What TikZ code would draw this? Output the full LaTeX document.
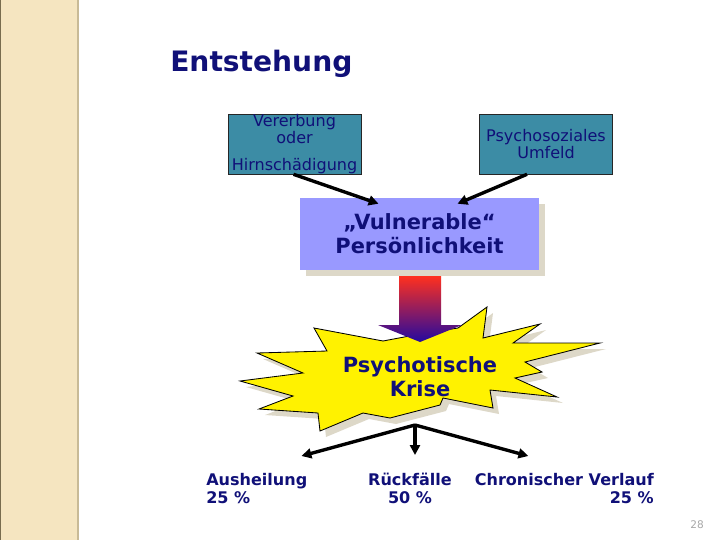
\documentclass[tikz,border=0pt]{standalone}
\usepackage{fontspec}
\setmainfont{DejaVu Sans}
\usetikzlibrary{arrows.meta,positioning,calc,shadows}
\definecolor{slidenavy}{RGB}{16,16,120}
\definecolor{slideteal}{RGB}{60,140,165}
\definecolor{slidelilac}{RGB}{153,153,255}
\definecolor{shadowtan}{RGB}{221,216,200}
\definecolor{bandbeige}{RGB}{245,229,192}
\definecolor{bandedge}{RGB}{200,186,150}
\definecolor{bandline}{RGB}{120,108,78}
\definecolor{blockred}{RGB}{255,48,30}
\definecolor{blockblue}{RGB}{36,10,160}
\definecolor{pagegray}{RGB}{168,168,168}

\begin{document}
\begin{tikzpicture}[x=0.025cm, y=-0.025cm,
    srcbox/.style={draw=black!85, fill=slideteal, text=slidenavy,
        minimum width=3.325cm, minimum height=1.5cm, align=center,
        inner sep=0pt, font=\fontsize{11.4}{12.1}\selectfont},
    bigtext/.style={text=slidenavy, align=center, inner sep=0pt,
        font=\bfseries\fontsize{14.9}{17}\selectfont},
    outcome/.style={text=slidenavy, inner sep=0pt,
        font=\bfseries\fontsize{11.4}{12.8}\selectfont},
    thickarrow/.style={-{Triangle[length=7pt,width=7pt]}, line width=2.4pt},
    softshadow/.style={drop shadow={shadow xshift=0.15cm, shadow yshift=-0.15cm,
        fill=shadowtan, opacity=1}}
]
\useasboundingbox (0,0) rectangle (720,540);

% side band
\fill[bandbeige] (0,0) rectangle (77,540);
\fill[bandedge] (77,0) rectangle (79,540);
\draw[bandline, line width=0.8pt] (0.5,0) -- (0.5,540);

% title
\node[anchor=base west, inner sep=0pt, text=slidenavy,
      font=\bfseries\fontsize{20}{24}\selectfont] (title) at (170,71) {Entstehung};

% causes
\node[srcbox] (erbe) at (294.5,144) {Vererbung\\oder\\[7pt]Hirnschädigung};
\node[srcbox] (umfeld) at (546,144) {Psychosoziales\\Umfeld};

% vulnerable personality
\node[bigtext, fill=slidelilac, softshadow, minimum width=5.975cm,
      minimum height=1.8cm] (vuln) at (419.5,234) {„Vulnerable“\\Persönlichkeit};

\draw[thickarrow] ($(erbe.south)+(-1,0)$) -- ($(vuln.north)+(-41,6)$);
\draw[thickarrow] ($(umfeld.south)+(-19,0)$) -- ($(vuln.north)+(38,6)$);

% crisis star
\filldraw[fill=yellow, draw=black, line width=0.6pt, softshadow]
    (314,328) -- (383,341) -- (420,334) -- (458,328) -- (487,307) -- (483,338)
    -- (540,324) -- (513,343) -- (600,343) -- (525,362) -- (542,372) -- (515,378)
    -- (557,397) -- (490,390) -- (493,408) -- (443,398) -- (440,405) -- (390,418)
    -- (363,413) -- (320,431) -- (318,413) -- (259,409) -- (293,396) -- (240,381)
    -- (303,373) -- (257,353) -- (327,351) -- cycle;

% block arrow
\shade[top color=blockred, bottom color=blockblue]
    (399,276) -- (441,276) -- (441,325) -- (462,325) -- (420,342) -- (378,325)
    -- (399,325) -- cycle;

\node[bigtext] (krise) at (420,377) {Psychotische\\Krise};

% outcomes
\coordinate (split) at (415,425);
\node[outcome, anchor=north west, align=left] (heil) at (206,473) {Ausheilung\\25 \%};
\node[outcome, anchor=north, align=center] (rueck) at (410,473) {Rückfälle\\50 \%};
\node[outcome, anchor=north east, align=right] (chron) at (654,473) {Chronischer Verlauf\\25 \%};

\draw[thickarrow] (split) -- ($(heil.north east)+(-6,-17)$);
\draw[thickarrow] (split) -- ($(rueck.north)+(5,-18)$);
\draw[thickarrow] (split) -- ($(chron.north)+(-36,-17)$);

\node[anchor=base east, inner sep=0pt, text=pagegray,
      font=\fontsize{7.5}{9}\selectfont] (pnum) at (704,528) {28};
\end{tikzpicture}
\end{document}
